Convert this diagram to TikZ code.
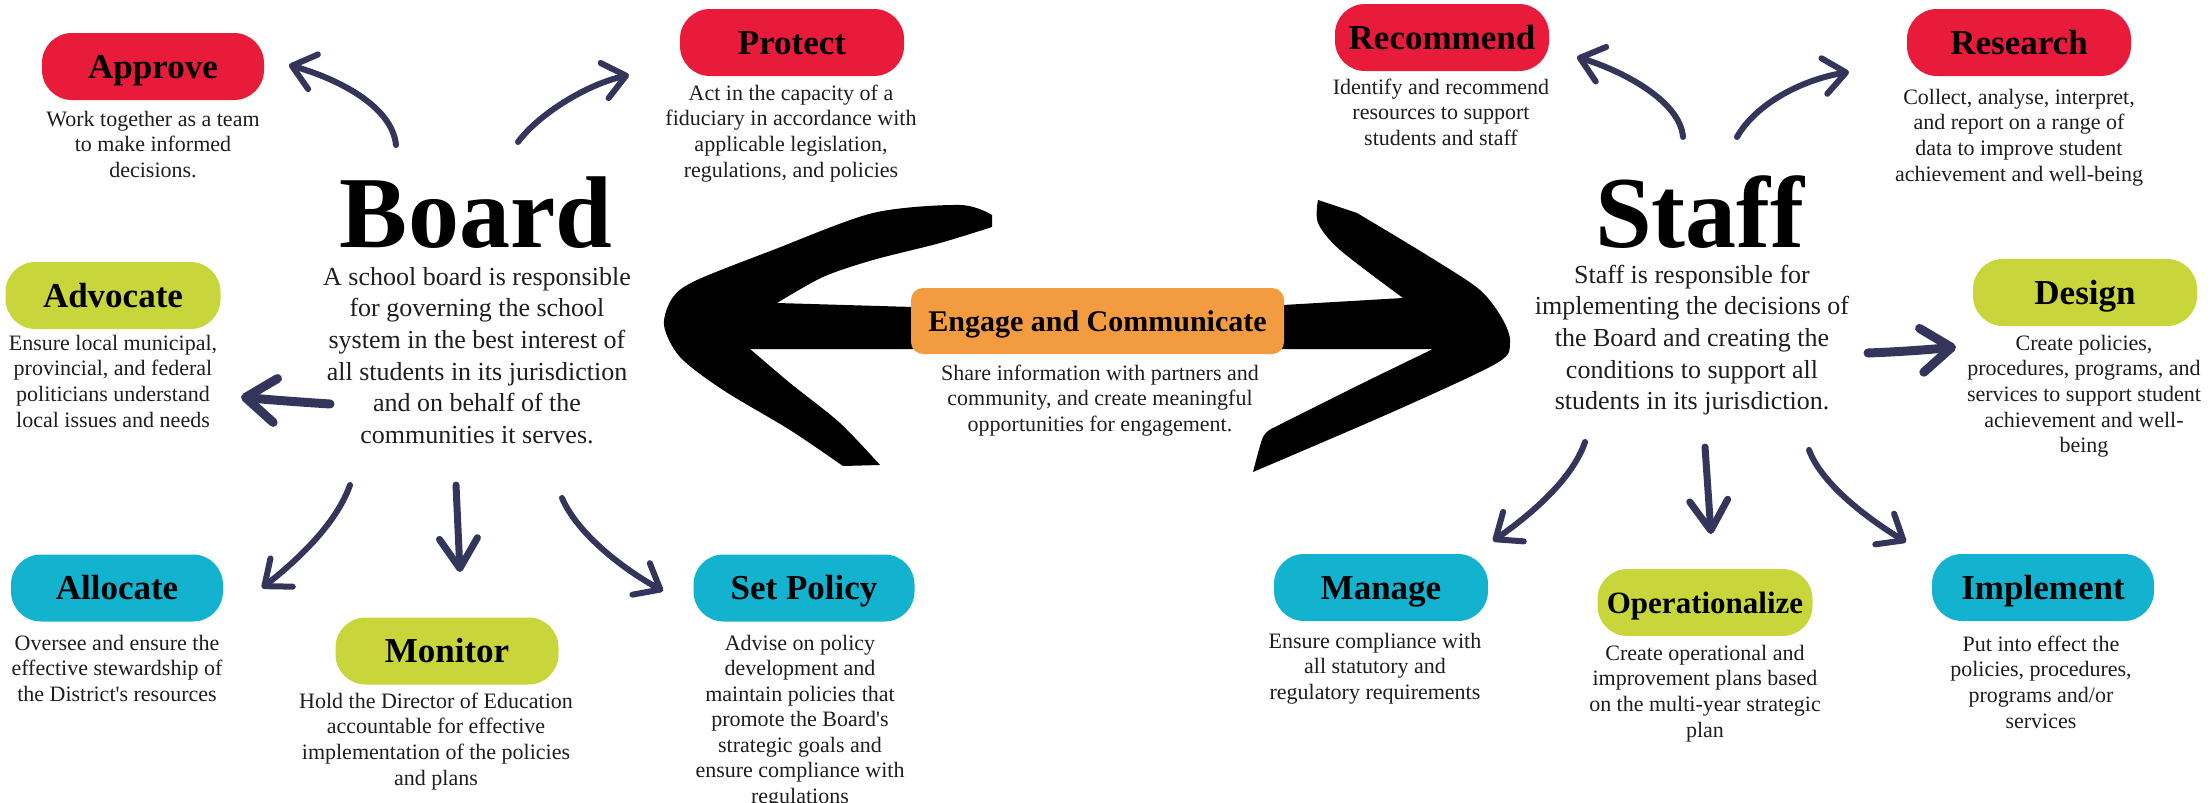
\documentclass[tikz,border=0pt]{standalone}
\usepackage{fontspec}
\setmainfont{Liberation Serif}
\usetikzlibrary{arrows.meta}
\definecolor{pred}{HTML}{E91B3A}
\definecolor{plime}{HTML}{C9D63B}
\definecolor{pcyan}{HTML}{13B3D0}
\definecolor{porange}{HTML}{F29B40}
\definecolor{navy}{HTML}{33365A}
\definecolor{txt}{HTML}{1E1E1E}
\begin{document}
\begin{tikzpicture}[x=1pt,y=-1pt,
  pill/.style={rounded corners=30pt, minimum height=67pt, inner sep=0pt,
    font=\bfseries\fontsize{35}{40}\selectfont, text height=23pt, text depth=0pt},
  desc/.style={align=center, anchor=base, inner sep=0pt,
    font=\fontsize{22}{25.7}\selectfont, text=txt},
  bigdesc/.style={align=center, anchor=base, inner sep=0pt,
    font=\fontsize{26}{31.7}\selectfont, text=txt},
  title/.style={anchor=base, inner sep=0pt, font=\bfseries\fontsize{102}{110}\selectfont},
  conn/.style={draw=navy, line width=6pt, line cap=round,
    -{Straight Barb[length=22pt,width=36pt,round]}},
  thickconn/.style={draw=navy, line width=9pt, line cap=round,
    -{Straight Barb[length=30pt,width=44pt,round]}},
  downconn/.style={draw=navy, line width=7pt, line cap=round,
    -{Straight Barb[length=30pt,width=38pt,round]}},
]
\useasboundingbox (0,0) rectangle (2211,803);
\fill[white] (0,0) rectangle (2211,803);

% big double arrow
\fill[black] plot[smooth] coordinates {(843,466) (790,430) (723,390) (680,357) (664,325) (673,297) (697,280) (773,250) (873,213) (960,205) (992,215)}
  -- (992,227)
  -- plot[smooth] coordinates {(992,227) (940,243) (873,260) (823,277) (777,303)}
  -- (913,307) -- (1283,305) -- (1403,298)
  -- plot[smooth] coordinates {(1403,298) (1340,250) (1318,223) (1318,200)}
  -- (1357,213)
  -- plot[smooth] coordinates {(1357,213) (1430,257) (1480,290) (1503,320) (1510,343) (1497,363) (1397,410) (1253,472)}
  -- plot[smooth] coordinates {(1253,472) (1263,437) (1273,428)}
  -- plot[smooth] coordinates {(1273,428) (1363,383) (1433,349)}
  -- (750,349)
  -- plot[smooth] coordinates {(750,349) (790,383) (840,423) (880,465)}
  -- cycle;

\node[rounded corners=12pt, fill=porange, minimum width=373pt, minimum height=66pt, inner sep=0pt,
  font=\bfseries\fontsize{30}{36}\selectfont, text height=20pt, text depth=0pt] (engage) at (1097.5,321) {Engage and Communicate};
\node[desc] (engagetxt) at (1100,431.4) {Share information with partners and\\community, and create meaningful\\opportunities for engagement.};

% Board side
\node[title] (board) at (476,247) {Board};
\node[bigdesc] (boardtxt) at (477,443.5) {A school board is responsible\\for governing the school\\system in the best interest of\\all students in its jurisdiction\\and on behalf of the\\communities it serves.};

\node[pill, fill=pred, minimum width=222pt] (approve) at (153,66.5) {Approve};
\node[desc] (approvetxt) at (153,177.4) {Work together as a team\\to make informed\\decisions.};
\node[pill, fill=pred, minimum width=224pt] (protect) at (792,42.5) {Protect};
\node[desc] (protecttxt) at (791,177.1) {Act in the capacity of a\\fiduciary in accordance with\\applicable legislation,\\regulations, and policies};
\node[pill, fill=plime, minimum width=215pt] (advocate) at (113,295.5) {Advocate};
\node[desc] (advocatetxt) at (113,427.1) {Ensure local municipal,\\provincial, and federal\\politicians understand\\local issues and needs};
\node[pill, fill=pcyan, minimum width=212pt] (allocate) at (117,588) {Allocate};
\node[desc] (allocatetxt) at (117,701.4) {Oversee and ensure the\\effective stewardship of\\the District\textquotesingle s resources};
\node[pill, fill=plime, minimum width=223pt] (monitor) at (447,651) {Monitor};
\node[desc] (monitortxt) at (436,785.1) {Hold the Director of Education\\accountable for effective\\implementation of the policies\\and plans};
\node[pill, fill=pcyan, minimum width=221pt] (setpolicy) at (804,588) {Set Policy};
\node[desc, font=\fontsize{22}{25.5}\selectfont] (setpolicytxt) at (800,803) {Advise on policy\\development and\\maintain policies that\\promote the Board\textquotesingle s\\strategic goals and\\ensure compliance with\\regulations};

% Staff side
\node[title] (staff) at (1700,247) {Staff};
\node[bigdesc] (stafftxt) at (1692,409.8) {Staff is responsible for\\implementing the decisions of\\the Board and creating the\\conditions to support all\\students in its jurisdiction.};

\node[pill, fill=pred, minimum width=214pt] (recommend) at (1442,37.5) {Recommend};
\node[desc] (recommendtxt) at (1441,145.4) {Identify and recommend\\resources to support\\students and staff};
\node[pill, fill=pred, minimum width=224pt] (research) at (2019,42.5) {Research};
\node[desc] (researchtxt) at (2019,181.1) {Collect, analyse, interpret,\\and report on a range of\\data to improve student\\achievement and well-being};
\node[pill, fill=plime, minimum width=224pt] (design) at (2085,292.5) {Design};
\node[desc] (designtxt) at (2084,452.8) {Create policies,\\procedures, programs, and\\services to support student\\achievement and well-\\being};
\node[pill, fill=pcyan, minimum width=214pt] (manage) at (1381,587.5) {Manage};
\node[desc] (managetxt) at (1375,699.4) {Ensure compliance with\\all statutory and\\regulatory requirements};
\node[pill, fill=plime, minimum width=215pt, font=\bfseries\fontsize{31}{36}\selectfont, text height=21pt] (operational) at (1705,602.5) {Operationalize};
\node[desc] (operationaltxt) at (1705,737.1) {Create operational and\\improvement plans based\\on the multi-year strategic\\plan};
\node[pill, fill=pcyan, minimum width=222pt] (implement) at (2043,587.5) {Implement};
\node[desc] (implementtxt) at (2041,728.1) {Put into effect the\\policies, procedures,\\programs and/or\\services};

% arrow coordinates
\coordinate (a1s) at (396,145); \coordinate (a1e) at (289,65);
\coordinate (a2s) at (518,142); \coordinate (a2e) at (629,75);
\coordinate (a3s) at (330,404); \coordinate (a3e) at (241,397);
\coordinate (a4s) at (350,485); \coordinate (a4e) at (262,588);
\coordinate (a5s) at (456,485); \coordinate (a5e) at (460,572);
\coordinate (a6s) at (562,498); \coordinate (a6e) at (663,591);
\coordinate (b1s) at (1683,137); \coordinate (b1e) at (1577,57);
\coordinate (b2s) at (1737,137); \coordinate (b2e) at (1849,72);
\coordinate (b3s) at (1868,353); \coordinate (b3e) at (1956,347);
\coordinate (b4s) at (1585,442); \coordinate (b4e) at (1493,541);
\coordinate (b5s) at (1705,447); \coordinate (b5e) at (1711,534);
\coordinate (b6s) at (1809,450); \coordinate (b6e) at (1906,542);

\draw[conn] (a1s) .. controls +(-4,-40) and +(46,13) .. (a1e);
\draw[conn] (a2s) .. controls +(20,-27) and +(-44,10) .. (a2e);
\draw[thickconn] (a3s) .. controls +(-30,-2) and +(30,3) .. (a3e);
\draw[conn] (a4s) .. controls +(-14,40) and +(33,-26) .. (a4e);
\draw[downconn] (a5s) -- (a5e);
\draw[conn] (a6s) .. controls +(16,37) and +(-38,-21) .. (a6e);
\draw[conn] (b1s) .. controls +(-3,-37) and +(43,13) .. (b1e);
\draw[conn] (b2s) .. controls +(18,-32) and +(-49,8) .. (b2e);
\draw[thickconn] (b3s) .. controls +(27,-1) and +(-31,3) .. (b3e);
\draw[conn] (b4s) .. controls +(-13,38) and +(37,-26) .. (b4e);
\draw[downconn] (b5s) -- (b5e);
\draw[conn] (b6s) .. controls +(13,35) and +(-36,-22) .. (b6e);
\end{tikzpicture}
\end{document}
